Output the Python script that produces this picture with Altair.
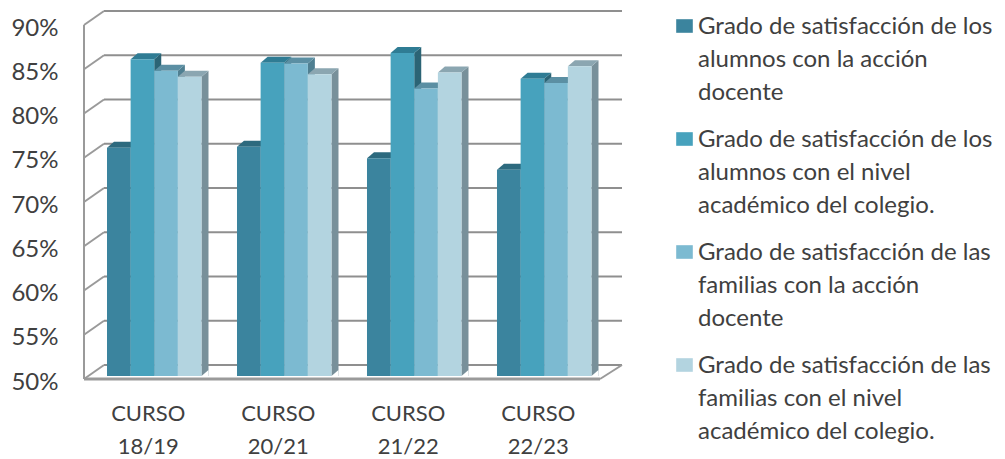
import altair as alt
import pandas as pd

courses = ["CURSO 18/19", "CURSO 20/21", "CURSO 21/22", "CURSO 22/23"]
series = [
    "Grado de satisfacción de los|alumnos con la acción|docente",
    "Grado de satisfacción de los|alumnos con el nivel|académico del colegio.",
    "Grado de satisfacción de las|familias con la acción|docente",
    "Grado de satisfacción de las|familias con el nivel|académico del colegio.",
]
s1 = [75.8, 75.9, 74.6, 73.3]
s2 = [85.8, 85.4, 86.5, 83.6]
s3 = [84.5, 85.3, 82.5, 83.1]
s4 = [83.8, 84.1, 84.3, 85.0]
ticks = [50, 55, 60, 65, 70, 75, 80, 85, 90]

front_colors = ["#3b849e", "#47a2bd", "#7cbad1", "#b3d4e0"]
top_colors = ["#2d6a7e", "#2f7c94", "#5b8fa3", "#8ba6b1"]
side_colors = ["#2a5f70", "#2b6475", "#4f7f91", "#78909a"]

rows = []
for i, vals in enumerate([s1, s2, s3, s4]):
    for c, v in zip(courses, vals):
        rows.append({"course": c, "serie": series[i], "value": v, "base": 50, "top": top_colors[i], "side": side_colors[i]})
df = pd.DataFrame(rows)
tk = pd.DataFrame({"v": ticks, "v2": ticks})
ext = pd.DataFrame({"a": [90], "b": [50]})
floor = pd.DataFrame({"a": [50], "b": [50]})
leg = pd.DataFrame({"serie": series})

PW, PH = 538, 354
DX, DY = 7, 6
W2 = 11.8

yscale = alt.Scale(domain=[50, 90], zero=False, nice=False)
xscale = alt.Scale(domain=courses, range=[23, 507.5], paddingInner=0.273, paddingOuter=0)
xenc = alt.X("course:N", scale=xscale, sort=courses, title=None,
             axis=alt.Axis(labelExpr="split(datum.label, ' ')", labelAngle=0, domain=False, ticks=False,
                           labelFont="Lato", labelFontSize=22, labelColor="#404040", labelPadding=27,
                           labelOffset=-6, labelLineHeight=33, labelAlign="center", grid=False))
xoff = alt.XOffset("serie:N", sort=series)
y_plain = alt.Y("value:Q", scale=yscale, axis=None)
GRID = "#9a9a9a"

back = alt.Chart(tk).mark_rule(color="#8f8f8f", strokeWidth=2, yOffset=-11).encode(
    x=alt.value(20), x2=alt.value(PW),
    y=alt.Y("v:Q", scale=yscale, title=None,
            axis=alt.Axis(values=ticks, labelExpr="datum.value + '%'", domain=False, ticks=False, grid=False,
                          labelFont="Lato", labelFontSize=24, labelColor="#404040", labelPadding=26,
                          labelOffset=6)),
)
diag = alt.Chart(tk).mark_rule(color=GRID, strokeWidth=2, yOffset=3, y2Offset=-11).encode(
    x=alt.value(0), x2=alt.value(20), y=alt.Y("v:Q", scale=yscale, axis=None), y2="v2:Q")
wall = alt.Chart(ext).mark_rule(color=GRID, strokeWidth=2, yOffset=3, y2Offset=3).encode(
    x=alt.value(0), y=alt.Y("a:Q", scale=yscale, axis=None), y2="b:Q")
fl = alt.Chart(floor).mark_rule(color=GRID, strokeWidth=3, yOffset=3).encode(
    x=alt.value(0), x2=alt.value(516), y=alt.Y("a:Q", scale=yscale, axis=None))
fr = alt.Chart(floor).mark_rule(color=GRID, strokeWidth=2, yOffset=3, y2Offset=-11).encode(
    x=alt.value(516), x2=alt.value(PW), y=alt.Y("a:Q", scale=yscale, axis=None), y2="b:Q")

side = alt.Chart(df).mark_point(filled=True, opacity=1, size=4, strokeWidth=0, clip=True,
    shape=f"M{W2},0L{W2+DX},-{DY}L{W2+DX},400L{W2},400Z").encode(
    x=xenc, xOffset=xoff, y=y_plain, fill=alt.Fill("side:N", scale=None))
side_cut = alt.Chart(df).mark_point(filled=True, opacity=1, size=4, strokeWidth=0, fill="white",
    shape=f"M{W2},0L{W2+DX},-{DY}L{W2+DX},1L{W2},1Z").encode(
    x=xenc, xOffset=xoff, y=alt.Y("base:Q", scale=yscale, axis=None))
tops = alt.Chart(df).mark_point(filled=True, opacity=1, size=4, strokeWidth=0,
    shape=f"M-{W2},0L{W2},0L{W2+DX},-{DY}L{DX-W2},-{DY}Z").encode(
    x=xenc, xOffset=xoff, y=y_plain, fill=alt.Fill("top:N", scale=None))
color_enc = alt.Color("serie:N", sort=series, legend=None,
                      scale=alt.Scale(domain=series, range=front_colors))
fronts = alt.Chart(df).mark_bar().encode(x=xenc, xOffset=xoff, y=y_plain, y2="base:Q", color=color_enc)

leg_y = alt.Y("serie:N", sort=series, axis=None, title=None,
              scale=alt.Scale(domain=series, range=[4, 343], type="point", padding=0))
leg_sq = alt.Chart(leg).mark_point(filled=True, opacity=1, size=4, strokeWidth=0,
                                   shape="M-8.3,-6.8L8.3,-6.8L8.3,6.8L-8.3,6.8Z").encode(
    x=alt.value(600.5), y=leg_y, color=color_enc)
leg_tx = alt.Chart(leg).mark_text(align="left", baseline="top", font="Lato", fontSize=24, color="#404040",
                                  lineBreak="|", lineHeight=33, dy=-11).encode(
    x=alt.value(614), y=leg_y, text="serie:N")

chart = alt.layer(back, diag, wall, fl, fr, side, side_cut, tops, fronts, leg_sq, leg_tx).resolve_scale(
    color="independent", fill="independent", y="independent"
).properties(
    width=PW, height=PH,
    padding={"left": 76, "top": 14, "right": 375, "bottom": 83},
    autosize=alt.AutoSizeParams(type="none"),
    background="white",
).configure_view(stroke=None)

chart.save("out.html", embed_options={"renderer": "svg", "actions": False})
